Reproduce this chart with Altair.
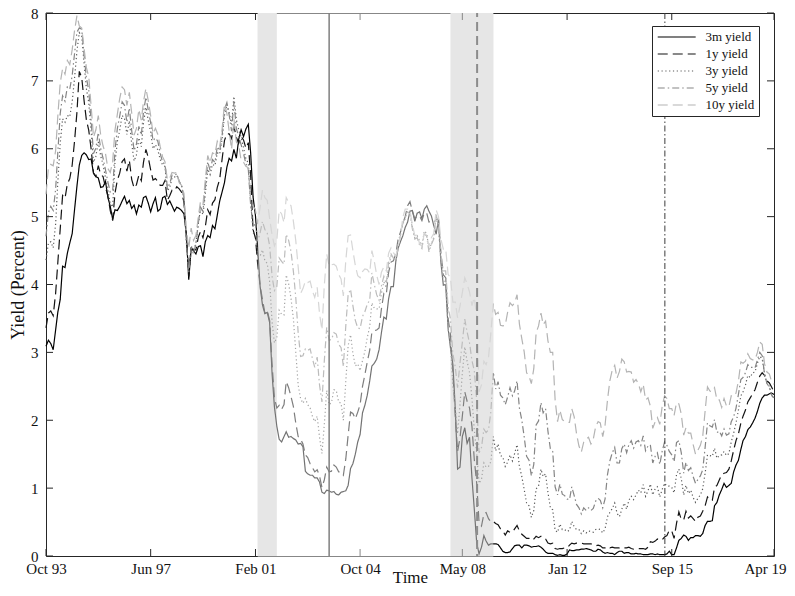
import altair as alt
import pandas as pd

FONT = "Liberation Serif"

series_names = ["3m yield", "1y yield", "3y yield", "5y yield", "10y yield"]
start_month = "1993-10-01"

# Monthly yields, Oct 1993 .. Apr 2019 (percent)
y3m = [
    3.09, 3.18, 3.13,
    3.04, 3.33, 3.59, 3.78, 4.27, 4.25, 4.46, 4.61, 4.75, 5.10, 5.45, 5.76,
    5.90, 5.94, 5.91, 5.84, 5.85, 5.64, 5.59, 5.57, 5.43, 5.44, 5.52, 5.29,
    5.15, 4.96, 5.10, 5.09, 5.15, 5.23, 5.30, 5.19, 5.24, 5.12, 5.17, 5.04,
    5.17, 5.14, 5.28, 5.30, 5.20, 5.07, 5.19, 5.28, 5.08, 5.11, 5.28, 5.30,
    5.18, 5.23, 5.16, 5.08, 5.14, 5.12, 5.09, 5.04, 4.74, 4.07, 4.53, 4.50,
    4.45, 4.56, 4.57, 4.41, 4.63, 4.72, 4.69, 4.87, 4.82, 5.02, 5.23, 5.36,
    5.50, 5.73, 5.86, 5.82, 5.99, 5.86, 6.14, 6.28, 6.18, 6.29, 6.36, 5.94,
    5.29, 5.01, 4.54, 3.97, 3.70, 3.57, 3.59, 3.44, 2.69, 2.20, 1.91, 1.72,
    1.68, 1.76, 1.83, 1.75, 1.76, 1.73, 1.71, 1.65, 1.66, 1.61, 1.25, 1.21,
    1.19, 1.19, 1.15, 1.15, 1.09, 0.94, 0.92, 0.97, 0.96, 0.94, 0.95, 0.91,
    0.90, 0.94, 0.95, 0.96, 1.04, 1.29, 1.36, 1.50, 1.68, 1.79, 2.11, 2.22,
    2.37, 2.58, 2.80, 2.84, 2.90, 3.04, 3.29, 3.52, 3.49, 3.79, 3.97, 3.97,
    4.34, 4.54, 4.63, 4.72, 4.84, 4.92, 5.08, 5.09, 4.93, 5.05, 5.07, 4.97,
    5.11, 5.16, 5.08, 5.01, 4.87, 4.74, 4.96, 4.32, 3.99, 4.00, 3.35, 3.07,
    2.82, 2.17, 1.28, 1.31, 1.76, 1.89, 1.66, 1.75, 1.15, 0.69, 0.19, 0.03,
    0.13, 0.30, 0.22, 0.16, 0.18, 0.18, 0.18, 0.17, 0.12, 0.07, 0.05, 0.05,
    0.06, 0.11, 0.15, 0.16, 0.16, 0.12, 0.16, 0.16, 0.15, 0.13, 0.14, 0.14,
    0.15, 0.13, 0.10, 0.06, 0.04, 0.04, 0.04, 0.02, 0.01, 0.02, 0.01, 0.01,
    0.03, 0.09, 0.08, 0.08, 0.09, 0.09, 0.10, 0.10, 0.11, 0.10, 0.09, 0.07,
    0.07, 0.10, 0.09, 0.06, 0.04, 0.05, 0.04, 0.04, 0.02, 0.05, 0.07, 0.07,
    0.04, 0.05, 0.05, 0.03, 0.03, 0.04, 0.03, 0.03, 0.02, 0.02, 0.02, 0.03,
    0.03, 0.02, 0.03, 0.02, 0.02, 0.02, 0.03, 0.07, 0.02, 0.02, 0.12, 0.23,
    0.26, 0.31, 0.29, 0.23, 0.27, 0.27, 0.30, 0.30, 0.29, 0.33, 0.45, 0.51,
    0.51, 0.52, 0.74, 0.79, 0.90, 0.98, 1.07, 1.01, 1.04, 1.07, 1.24, 1.34,
    1.41, 1.57, 1.70, 1.76, 1.86, 1.90, 1.96, 2.03, 2.13, 2.25, 2.33, 2.37,
    2.37, 2.39, 2.40, 2.38,
]
y1y = [
    3.36, 3.58, 3.61,
    3.54, 3.87, 4.32, 4.82, 5.31, 5.27, 5.48, 5.56, 5.76, 6.11, 6.54, 7.14,
    7.05, 6.70, 6.43, 6.27, 6.00, 5.64, 5.59, 5.75, 5.62, 5.59, 5.43, 5.31,
    5.09, 4.94, 5.34, 5.54, 5.64, 5.81, 5.85, 5.67, 5.83, 5.55, 5.42, 5.47,
    5.61, 5.53, 5.80, 5.99, 5.87, 5.69, 5.54, 5.56, 5.52, 5.46, 5.46, 5.53,
    5.24, 5.31, 5.39, 5.38, 5.44, 5.41, 5.36, 5.21, 4.71, 4.12, 4.53, 4.52,
    4.51, 4.70, 4.78, 4.69, 4.85, 5.10, 5.03, 5.20, 5.25, 5.43, 5.55, 5.84,
    6.12, 6.22, 6.22, 6.15, 6.33, 6.17, 6.08, 6.18, 6.13, 6.01, 6.09, 5.60,
    4.81, 4.68, 4.30, 3.98, 3.78, 3.58, 3.62, 3.47, 2.82, 2.33, 2.18, 2.22,
    2.16, 2.23, 2.57, 2.48, 2.35, 2.20, 1.96, 1.76, 1.72, 1.65, 1.49, 1.45,
    1.36, 1.30, 1.24, 1.27, 1.18, 1.01, 1.12, 1.31, 1.24, 1.25, 1.34, 1.31,
    1.24, 1.24, 1.19, 1.43, 1.78, 2.12, 2.10, 2.02, 2.12, 2.23, 2.50, 2.67,
    2.86, 3.03, 3.30, 3.32, 3.33, 3.36, 3.64, 3.87, 3.85, 4.18, 4.33, 4.35,
    4.45, 4.68, 4.77, 4.90, 5.00, 5.16, 5.22, 5.08, 4.97, 5.01, 5.01, 4.94,
    5.06, 5.05, 4.92, 4.93, 4.91, 4.96, 4.96, 4.47, 4.14, 4.10, 3.50, 3.26,
    2.71, 2.05, 1.54, 1.74, 2.06, 2.42, 2.28, 2.18, 1.91, 1.42, 1.07, 0.49,
    0.44, 0.62, 0.64, 0.55, 0.50, 0.51, 0.48, 0.46, 0.40, 0.37, 0.31, 0.37,
    0.35, 0.35, 0.40, 0.45, 0.37, 0.32, 0.29, 0.26, 0.26, 0.23, 0.25, 0.29,
    0.27, 0.29, 0.26, 0.25, 0.19, 0.18, 0.19, 0.11, 0.10, 0.11, 0.11, 0.12,
    0.12, 0.16, 0.19, 0.18, 0.19, 0.19, 0.19, 0.18, 0.18, 0.18, 0.18, 0.16,
    0.15, 0.16, 0.15, 0.12, 0.12, 0.14, 0.12, 0.13, 0.12, 0.12, 0.12, 0.13,
    0.12, 0.12, 0.13, 0.11, 0.10, 0.10, 0.11, 0.11, 0.11, 0.10, 0.13, 0.21,
    0.20, 0.22, 0.25, 0.23, 0.24, 0.28, 0.30, 0.38, 0.37, 0.26, 0.48, 0.65,
    0.54, 0.53, 0.66, 0.56, 0.59, 0.55, 0.51, 0.57, 0.59, 0.66, 0.74, 0.87,
    0.83, 0.82, 1.01, 1.04, 1.12, 1.20, 1.22, 1.23, 1.28, 1.40, 1.56, 1.70,
    1.80, 1.96, 2.06, 2.15, 2.27, 2.33, 2.39, 2.45, 2.56, 2.65, 2.70, 2.66,
    2.58, 2.55, 2.49, 2.42,
]
y3y = [
    4.36, 4.61, 4.63,
    4.54, 4.89, 5.51, 6.08, 6.44, 6.39, 6.49, 6.47, 6.69, 7.04, 7.44, 7.71,
    7.66, 7.25, 6.89, 6.68, 6.27, 5.80, 5.89, 6.10, 5.89, 5.77, 5.57, 5.39,
    5.20, 5.14, 5.79, 6.11, 6.27, 6.49, 6.45, 6.21, 6.41, 6.08, 5.82, 5.91,
    6.16, 6.03, 6.38, 6.61, 6.42, 6.24, 6.00, 6.06, 5.98, 5.84, 5.76, 5.74,
    5.38, 5.43, 5.57, 5.58, 5.61, 5.52, 5.46, 5.27, 4.62, 4.18, 4.57, 4.48,
    4.61, 4.90, 5.11, 5.03, 5.33, 5.70, 5.62, 5.77, 5.75, 5.94, 5.92, 6.14,
    6.49, 6.65, 6.53, 6.36, 6.77, 6.43, 6.28, 6.17, 6.02, 5.85, 5.79, 5.26,
    4.77, 4.71, 4.43, 4.42, 4.51, 4.35, 4.31, 4.04, 3.45, 3.14, 3.22, 3.62,
    3.56, 3.55, 4.14, 4.01, 3.80, 3.49, 3.01, 2.52, 2.32, 2.25, 2.32, 2.23,
    2.18, 2.05, 1.98, 2.06, 1.75, 1.51, 1.93, 2.44, 2.23, 2.26, 2.45, 2.44,
    2.27, 2.25, 2.00, 2.57, 3.10, 3.26, 2.99, 2.80, 2.83, 2.73, 2.88, 3.01,
    3.22, 3.38, 3.73, 3.65, 3.64, 3.64, 3.87, 4.04, 3.95, 4.27, 4.42, 4.39,
    4.35, 4.64, 4.74, 4.89, 4.97, 5.09, 5.07, 4.85, 4.69, 4.72, 4.64, 4.58,
    4.79, 4.75, 4.51, 4.60, 4.69, 5.00, 4.82, 4.34, 4.06, 4.01, 3.35, 3.13,
    2.51, 2.19, 1.80, 2.23, 2.69, 3.08, 2.87, 2.70, 2.32, 1.86, 1.51, 1.07,
    1.13, 1.37, 1.31, 1.32, 1.39, 1.76, 1.55, 1.65, 1.48, 1.46, 1.32, 1.38,
    1.49, 1.40, 1.51, 1.64, 1.32, 1.17, 0.98, 0.78, 0.74, 0.57, 0.67, 0.99,
    1.03, 1.28, 1.17, 1.21, 0.94, 0.71, 0.68, 0.38, 0.35, 0.47, 0.39, 0.39,
    0.36, 0.38, 0.51, 0.43, 0.39, 0.39, 0.33, 0.37, 0.34, 0.37, 0.36, 0.35,
    0.39, 0.40, 0.39, 0.34, 0.40, 0.58, 0.64, 0.70, 0.78, 0.63, 0.58, 0.69,
    0.78, 0.69, 0.82, 0.88, 0.83, 0.90, 0.97, 0.93, 1.05, 0.88, 0.96, 1.06,
    0.90, 0.99, 1.02, 0.87, 0.98, 1.07, 1.03, 1.03, 1.01, 0.93, 1.20, 1.28,
    1.14, 0.90, 1.04, 0.92, 0.97, 0.86, 0.79, 0.85, 0.90, 0.99, 1.22, 1.49,
    1.48, 1.47, 1.59, 1.44, 1.48, 1.49, 1.54, 1.48, 1.51, 1.68, 1.81, 1.96,
    2.15, 2.36, 2.42, 2.52, 2.66, 2.63, 2.70, 2.71, 2.84, 2.94, 2.91, 2.68,
    2.54, 2.50, 2.37, 2.31,
]
y5y = [
    4.71, 5.06, 5.15,
    5.09, 5.40, 5.94, 6.52, 6.78, 6.70, 6.91, 6.88, 7.08, 7.40, 7.72, 7.78,
    7.76, 7.37, 7.05, 6.86, 6.41, 5.93, 6.01, 6.24, 6.00, 5.86, 5.69, 5.51,
    5.36, 5.38, 5.97, 6.30, 6.48, 6.69, 6.64, 6.39, 6.60, 6.27, 5.97, 6.07,
    6.33, 6.20, 6.54, 6.76, 6.57, 6.38, 6.12, 6.16, 6.11, 5.93, 5.80, 5.77,
    5.42, 5.49, 5.61, 5.61, 5.63, 5.52, 5.46, 5.27, 4.62, 4.18, 4.54, 4.45,
    4.60, 4.91, 5.14, 5.08, 5.44, 5.81, 5.68, 5.84, 5.80, 6.03, 5.97, 6.19,
    6.58, 6.68, 6.50, 6.26, 6.69, 6.30, 6.18, 6.06, 5.93, 5.78, 5.70, 5.17,
    4.86, 4.89, 4.64, 4.76, 4.93, 4.81, 4.76, 4.57, 4.12, 3.91, 3.97, 4.39,
    4.34, 4.30, 4.74, 4.65, 4.49, 4.19, 3.81, 3.29, 2.94, 2.95, 3.05, 3.03,
    3.05, 2.90, 2.78, 2.93, 2.52, 2.27, 2.87, 3.37, 3.18, 3.19, 3.29, 3.27,
    3.12, 3.07, 2.79, 3.39, 3.85, 3.93, 3.69, 3.47, 3.36, 3.35, 3.53, 3.60,
    3.71, 3.77, 4.17, 4.00, 3.85, 3.77, 3.98, 4.12, 4.01, 4.33, 4.45, 4.39,
    4.35, 4.57, 4.72, 4.90, 5.00, 5.07, 5.04, 4.82, 4.67, 4.69, 4.58, 4.53,
    4.75, 4.71, 4.48, 4.59, 4.67, 5.03, 4.88, 4.43, 4.20, 4.20, 3.67, 3.49,
    2.98, 2.78, 2.48, 2.84, 3.15, 3.49, 3.30, 3.14, 2.88, 2.73, 2.29, 1.52,
    1.60, 1.87, 1.82, 1.86, 2.13, 2.71, 2.46, 2.57, 2.37, 2.33, 2.23, 2.34,
    2.48, 2.36, 2.43, 2.58, 2.18, 2.00, 1.76, 1.47, 1.41, 1.18, 1.35, 1.93,
    1.99, 2.26, 2.11, 2.17, 1.84, 1.58, 1.54, 1.02, 0.90, 1.06, 0.91, 0.89,
    0.84, 0.83, 1.02, 0.89, 0.76, 0.71, 0.62, 0.71, 0.67, 0.71, 0.67, 0.70,
    0.81, 0.85, 0.82, 0.71, 0.84, 1.20, 1.40, 1.52, 1.60, 1.37, 1.37, 1.58,
    1.65, 1.52, 1.64, 1.70, 1.59, 1.68, 1.70, 1.63, 1.77, 1.55, 1.62, 1.64,
    1.37, 1.47, 1.52, 1.35, 1.54, 1.68, 1.63, 1.54, 1.49, 1.39, 1.67, 1.70,
    1.52, 1.22, 1.38, 1.26, 1.30, 1.17, 1.07, 1.13, 1.18, 1.27, 1.60, 1.96,
    1.92, 1.90, 2.01, 1.82, 1.84, 1.77, 1.87, 1.78, 1.80, 1.98, 2.05, 2.18,
    2.38, 2.60, 2.63, 2.70, 2.82, 2.78, 2.78, 2.77, 2.89, 3.00, 2.95, 2.68,
    2.54, 2.49, 2.37, 2.33,
]
y10y = [
    5.33, 5.72, 5.77,
    5.75, 5.97, 6.48, 6.97, 7.18, 7.10, 7.30, 7.24, 7.46, 7.74, 7.96, 7.81,
    7.78, 7.47, 7.20, 7.06, 6.63, 6.17, 6.28, 6.49, 6.20, 6.04, 5.93, 5.71,
    5.65, 5.81, 6.27, 6.51, 6.74, 6.91, 6.87, 6.64, 6.83, 6.53, 6.20, 6.30,
    6.58, 6.42, 6.69, 6.89, 6.71, 6.49, 6.22, 6.30, 6.21, 6.03, 5.88, 5.81,
    5.54, 5.57, 5.65, 5.64, 5.65, 5.50, 5.46, 5.34, 4.81, 4.53, 4.83, 4.65,
    4.72, 5.00, 5.23, 5.18, 5.54, 5.90, 5.79, 5.94, 5.92, 6.11, 6.03, 6.28,
    6.66, 6.52, 6.26, 5.99, 6.44, 6.10, 6.05, 5.83, 5.80, 5.74, 5.72, 5.24,
    5.16, 5.10, 4.89, 5.14, 5.39, 5.28, 5.24, 4.97, 4.73, 4.57, 4.65, 5.09,
    5.04, 4.91, 5.28, 5.21, 5.16, 4.93, 4.65, 4.26, 3.87, 3.94, 4.05, 4.03,
    4.05, 3.90, 3.81, 3.96, 3.57, 3.33, 3.98, 4.45, 4.27, 4.29, 4.30, 4.27,
    4.15, 4.08, 3.83, 4.35, 4.72, 4.73, 4.50, 4.28, 4.13, 4.10, 4.19, 4.23,
    4.22, 4.17, 4.50, 4.34, 4.14, 4.00, 4.18, 4.26, 4.20, 4.46, 4.54, 4.47,
    4.42, 4.57, 4.72, 4.99, 5.11, 5.11, 5.09, 4.88, 4.72, 4.73, 4.60, 4.56,
    4.76, 4.72, 4.56, 4.69, 4.75, 5.10, 5.00, 4.67, 4.52, 4.53, 4.15, 4.10,
    3.74, 3.74, 3.51, 3.68, 3.88, 4.10, 4.01, 3.89, 3.69, 3.81, 3.53, 2.42,
    2.52, 2.87, 2.82, 2.93, 3.29, 3.72, 3.56, 3.59, 3.40, 3.39, 3.40, 3.59,
    3.73, 3.69, 3.73, 3.85, 3.42, 3.20, 3.01, 2.70, 2.65, 2.54, 2.76, 3.29,
    3.39, 3.58, 3.41, 3.46, 3.17, 3.00, 3.00, 2.30, 1.98, 2.15, 2.01, 1.98,
    1.97, 1.97, 2.17, 2.05, 1.80, 1.62, 1.53, 1.68, 1.72, 1.75, 1.65, 1.72,
    1.91, 1.98, 1.96, 1.76, 1.93, 2.30, 2.58, 2.74, 2.81, 2.62, 2.72, 2.90,
    2.86, 2.71, 2.72, 2.71, 2.56, 2.60, 2.54, 2.42, 2.53, 2.30, 2.33, 2.21,
    1.88, 1.98, 2.04, 1.94, 2.20, 2.36, 2.32, 2.17, 2.17, 2.07, 2.26, 2.24,
    2.09, 1.78, 1.89, 1.81, 1.81, 1.64, 1.50, 1.56, 1.63, 1.76, 2.14, 2.49,
    2.43, 2.42, 2.48, 2.30, 2.30, 2.19, 2.32, 2.21, 2.20, 2.36, 2.35, 2.40,
    2.58, 2.86, 2.84, 2.87, 2.98, 2.91, 2.89, 2.89, 3.00, 3.15, 3.12, 2.83,
    2.71, 2.68, 2.57, 2.53,
]

x_tick_dates = [(1993, 10), (1997, 6), (2001, 2), (2004, 10), (2008, 5),
                (2012, 1), (2015, 9), (2019, 4)]
y_tick_values = [0, 1, 2, 3, 4, 5, 6, 7, 8]
recession_start = ["2001-03-01", "2007-12-01"]
recession_end = ["2001-11-01", "2009-06-01"]
fade_start = ["2001-03-01"]
fade_end = ["2009-06-01"]
event_solid = ["2003-09-01"]
event_dashed = ["2008-11-06"]
event_dashdot = ["2015-06-05"]

series_colors = ["#000000", "#141414", "#5a5a5a", "#858585", "#b4b4b4"]
series_dashes = [[1, 0], [10, 5], [1.2, 2.6], [7, 3, 1.5, 3], [10, 5]]

n = len(y3m)
assert all(len(s) == n for s in [y1y, y3y, y5y, y10y])
dates = pd.date_range(start_month, periods=n, freq="MS")
df = pd.concat([
    pd.DataFrame({"date": dates, "yield": vals, "series": name})
    for name, vals in zip(series_names, [y3m, y1y, y3y, y5y, y10y])
])

W, H = 728, 543
TL = 7
INK = "#262626"

xscale = alt.Scale(domain=[alt.DateTime(year=1993, month=10, date=1),
                           alt.DateTime(year=2019, month=4, date=1)])
yscale = alt.Scale(domain=[0, 8], nice=False)
xaxis = alt.Axis(values=[alt.DateTime(year=y, month=m, date=1) for y, m in x_tick_dates],
                 format="%b %y", labelPadding=5, labelFlush=False,
                 labelOffset={"condition": {"test": "datum.value >= datetime(2019, 0, 1)", "value": -9},
                              "value": 0},
                 titleY=26, titleBaseline="alphabetic", titleFontSize=17)
yaxis = alt.Axis(values=y_tick_values, labelPadding=8, titlePadding=3, titleFontSize=18)


def X(field):
    return alt.X(field, type="temporal", scale=xscale, axis=xaxis, title="Time")


def Y(field):
    return alt.Y(field, type="quantitative", scale=yscale, axis=yaxis, title="Yield (Percent)")


rec_df = pd.DataFrame({"s": pd.to_datetime(recession_start), "e": pd.to_datetime(recession_end)})
recessions = alt.Chart(rec_df).mark_rect(color="#d2d2d2").encode(
    x=X("s"), x2="e", y=alt.value(0), y2=alt.value(H))

leg = alt.Legend(title=None, orient="none", legendX=606, legendY=13, direction="vertical",
                 symbolType="M-3,0H3", symbolSize=160, symbolStrokeWidth=1.2,
                 symbolOffset=13.7,
                 labelFont=FONT, labelFontSize=13, labelColor="#111111", labelOffset=21.7,
                 rowPadding=3, padding=4, strokeColor=INK, fillColor="white",
                 cornerRadius=0, labelLimit=200)

lines = alt.Chart(df).mark_line(strokeWidth=1.2).encode(
    x=X("date"), y=Y("yield"),
    color=alt.Color("series:N", scale=alt.Scale(domain=series_names, range=series_colors), legend=leg),
    strokeDash=alt.StrokeDash("series:N", scale=alt.Scale(domain=series_names, range=series_dashes), legend=leg),
)

xt_df = pd.DataFrame({"d": [pd.Timestamp(year=y, month=m, day=1) for y, m in x_tick_dates]})
yt_df = pd.DataFrame({"v": y_tick_values})
tick_bottom = alt.Chart(xt_df).mark_rule(color=INK, strokeWidth=1).encode(
    x=X("d"), y=alt.value(H), y2=alt.value(H - TL))
tick_top = alt.Chart(xt_df).mark_rule(color=INK, strokeWidth=1).encode(
    x=X("d"), y=alt.value(0), y2=alt.value(TL))
tick_left = alt.Chart(yt_df).mark_rule(color=INK, strokeWidth=1).encode(
    y=Y("v"), x=alt.value(0), x2=alt.value(TL))
tick_right = alt.Chart(yt_df).mark_rule(color=INK, strokeWidth=1).encode(
    y=Y("v"), x=alt.value(W), x2=alt.value(W - TL))

fade_df = pd.DataFrame({"s": pd.to_datetime(fade_start), "e": pd.to_datetime(fade_end)})
fade = alt.Chart(fade_df).mark_rect(color="white", opacity=0.45).encode(
    x=X("s"), x2="e", y=alt.value(-1), y2=alt.value(H + 1))

ev1 = alt.Chart(pd.DataFrame({"d": pd.to_datetime(event_solid)})).mark_rule(
    color="#7f7f7f", strokeWidth=1.5).encode(x=X("d"))
ev2 = alt.Chart(pd.DataFrame({"d": pd.to_datetime(event_dashed)})).mark_rule(
    color="#8c8c8c", strokeWidth=2, strokeDash=[9, 5], strokeDashOffset=-9).encode(x=X("d"))
ev3 = alt.Chart(pd.DataFrame({"d": pd.to_datetime(event_dashdot)})).mark_rule(
    color="#3c3c3c", strokeWidth=1, strokeDash=[6, 2.5, 1.5, 2.5]).encode(x=X("d"))

chart = alt.layer(
    recessions, lines, tick_bottom, tick_top, tick_left, tick_right, fade, ev1, ev2, ev3
).properties(
    width=W, height=H,
    autosize=alt.AutoSizeParams(type="none"),
    padding={"left": 38, "top": 5, "right": 13, "bottom": 30},
).configure_view(
    stroke=INK, strokeWidth=1
).configure_axis(
    labelFont=FONT, titleFont=FONT, labelFontSize=15,
    labelColor="#111111", titleColor="#111111", titleFontWeight="normal",
    domain=False, ticks=False, grid=False,
)

chart.save("out.html", embed_options={"renderer": "svg", "actions": False})
